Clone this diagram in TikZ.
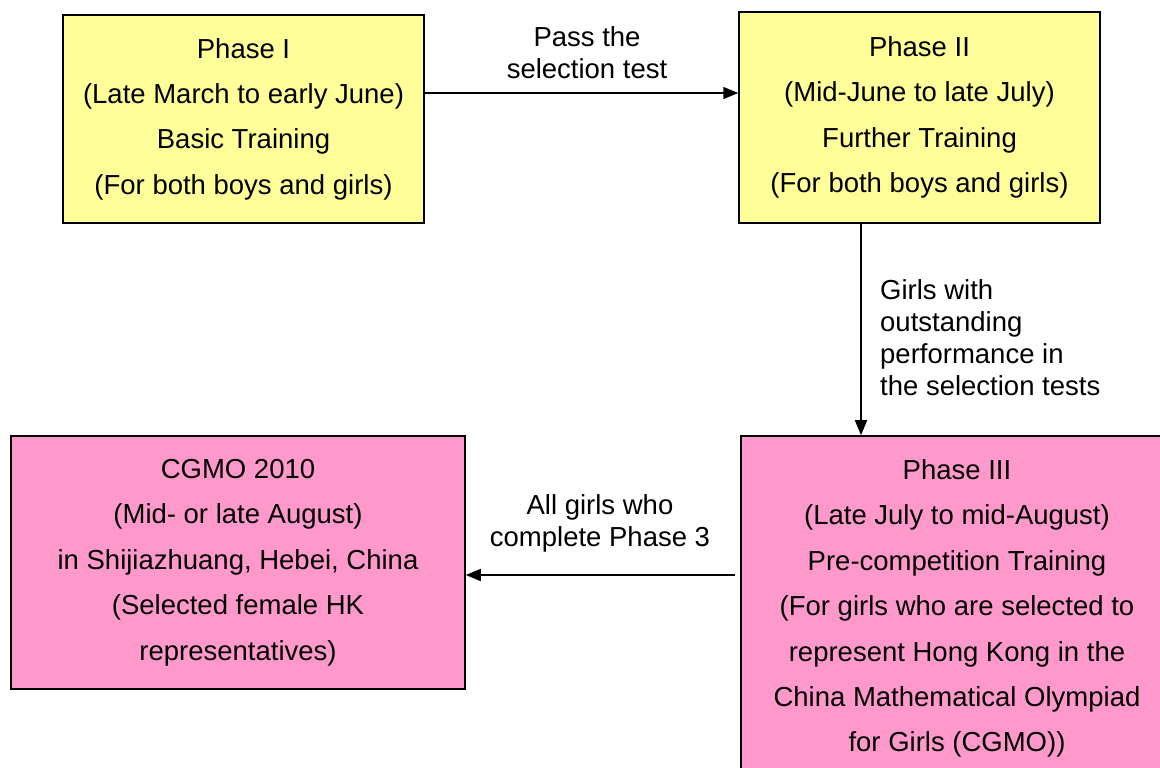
\documentclass[tikz,border=0pt]{standalone}
\usepackage{fontspec}
\setmainfont{Liberation Sans}
\usetikzlibrary{arrows.meta,calc}
\definecolor{boxyellow}{HTML}{FFFF99}
\definecolor{boxpink}{HTML}{FF99CC}
\tikzset{
  box/.style={draw=black, line width=1.5pt, align=center, inner sep=0pt,
    font=\fontsize{27.5}{45.4}\selectfont},
  ybox/.style={box, fill=boxyellow},
  pbox/.style={box, fill=boxpink},
  lbl/.style={inner sep=0pt, font=\fontsize{27.5}{31.8}\selectfont},
  arr/.style={line width=1.5pt, -{Triangle[length=15pt,width=12pt]}}
}
\begin{document}
\begin{tikzpicture}[x=1pt,y=1pt]
\clip (0,0) rectangle (1160,768);
\fill[white] (0,0) rectangle (1160,768);
\node[ybox, minimum width=361, minimum height=208] (p1) at (243.5,649)
  {Phase I\\(Late March to early June)\\Basic Training\\(For both boys and girls)};
\node[ybox, minimum width=361, minimum height=211] (p2) at (919.5,650.5)
  {Phase II\\(Mid-June to late July)\\Further Training\\(For both boys and girls)};
\node[pbox, minimum width=454, minimum height=253] (cg) at (238,205.5)
  {CGMO 2010\\(Mid- or late August)\\in Shijiazhuang, Hebei, China\\(Selected female HK\\representatives)};
\node[pbox, minimum width=432, minimum height=345] (p3) at (957,159.5)
  {Phase III\\(Late July to mid-August)\\Pre-competition Training\\(For girls who are selected to\\represent Hong Kong in the\\China Mathematical Olympiad\\for Girls (CGMO))};
\draw[arr] ([yshift=26]p1.east) -- ([yshift=26]p1.east -| p2.west);
\draw[arr] ([xshift=-58.5]p2.south) -- ([xshift=-58.5]p2.south |- p3.north);
\draw[arr] ($([yshift=-12.5]cg.east -| p3.west)+(-5,0)$) -- ([yshift=-12.5]cg.east);
\node[lbl, align=center] (l1) at (587,715) {Pass the\\selection test};
\node[lbl, align=left, anchor=west] (l2) at (880,430.5) {Girls with\\outstanding\\performance in\\the selection tests};
\node[lbl, align=center] (l3) at (600,245) {All girls who\\complete Phase 3};
\end{tikzpicture}
\end{document}
